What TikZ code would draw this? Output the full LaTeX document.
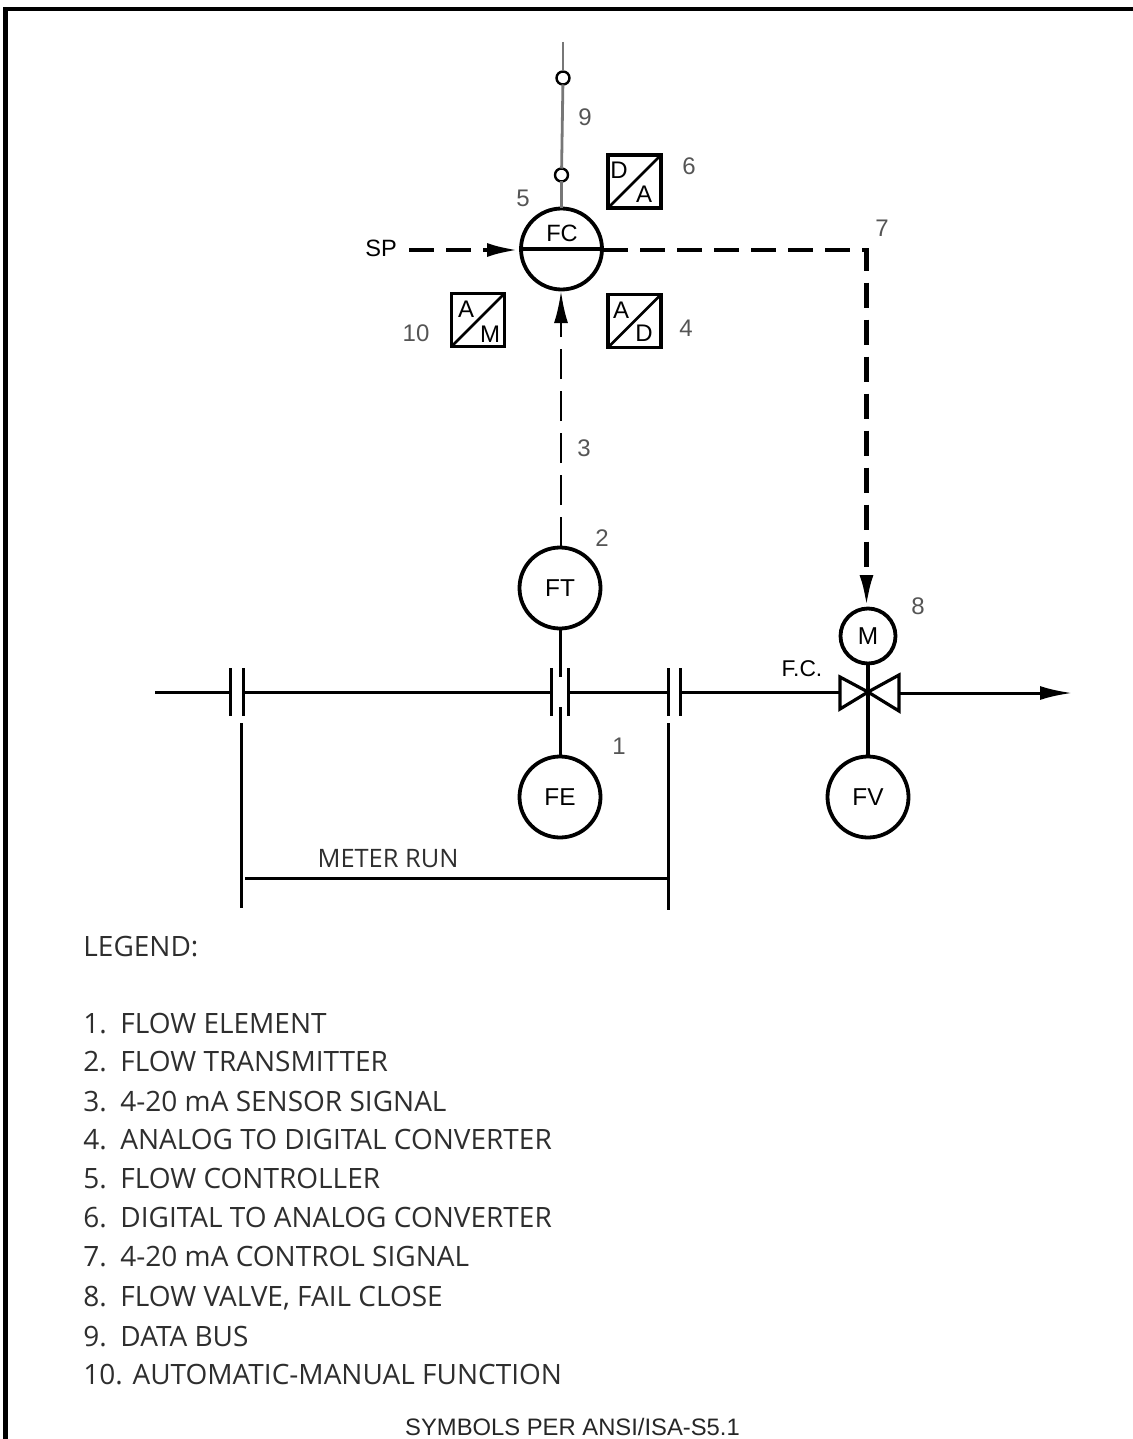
\documentclass[tikz,border=0pt]{standalone}
\usepackage{fontspec}
\setmainfont{Liberation Sans}
\newfontfamily\legfont{Open Sans}
\usetikzlibrary{arrows.meta}
\definecolor{numgray}{HTML}{555555}
\definecolor{legtext}{HTML}{2E2E2E}
\definecolor{busgray}{HTML}{777777}
\tikzset{
  instr/.style={circle,draw=black,line width=1.9pt,inner sep=0pt,outer sep=0pt,minimum size=40.5pt,font=\fontsize{12.2}{14}\selectfont},
  smallcirc/.style={circle,draw=black,line width=1.2pt,inner sep=0pt,outer sep=0pt,minimum size=6.5pt,fill=white},
  conv/.style={rectangle,draw=black,line width=1.7pt,inner sep=0pt,outer sep=0pt,minimum size=26.5pt},
  convtxt/.style={inner sep=0pt,font=\fontsize{12}{13}\selectfont},
  num/.style={inner sep=0pt,text=numgray,font=\fontsize{12}{13}\selectfont},
  leg/.style={inner sep=0pt,anchor=base west,text=legtext,font=\legfont\fontsize{14}{15}\selectfont},
  pipe/.style={line width=1.5pt,draw=black},
  plate/.style={line width=1.5pt,draw=black},
  bus/.style={line width=1.4pt,draw=busgray},
  sigthick/.style={line width=2.2pt,draw=black,dash pattern=on 12.5pt off 6pt},
  sigthin/.style={line width=1.4pt,draw=black,dash pattern=on 15pt off 6pt},
  headbig/.style={-{Latex[length=16pt,width=7pt]}},
}
\begin{document}
\begin{tikzpicture}[x=0.5pt,y=-0.5pt]
\useasboundingbox (0,0) rectangle (1133,1439);
% frame
\coordinate (frameBL) at (5.5,1439);
\coordinate (frameTL) at (5.5,9);
\coordinate (frameTR) at (1133,9);
\draw[line width=2.2pt,line cap=butt,line join=miter] (frameBL) -- (frameTL) -- (frameTR);
% instruments
\node[instr] (fc) at (561.5,249) {};
\node[inner sep=0pt,font=\fontsize{11.8}{13}\selectfont] (fctxt) at (562,233) {FC};
\node[instr] (ft) at (560,588) {FT};
\node[instr] (fe) at (560,797) {FE};
\node[instr] (fv) at (868,797) {FV};
\node[instr,minimum size=27.5pt] (m) at (868,636) {M};
% data bus
\coordinate (bustop) at (563,42);
\node[smallcirc] (b1) at (563,78) {};
\node[smallcirc] (b2) at (561.5,175) {};
\draw[bus] (bustop) -- (b1);
\draw[bus] (b1) -- (b2);
\draw[bus] (b2) -- (fc.north);
% converters
\node[conv] (da) at (634.5,181.5) {};
\node[conv] (ad) at (634.5,321) {};
\node[conv,line width=1.4pt] (am) at (478,320) {};
\draw[line width=1.3pt] (da.south west) -- (da.north east);
\draw[line width=1.3pt] (ad.south west) -- (ad.north east);
\draw[line width=1.3pt] (am.south west) -- (am.north east);
\node[convtxt] (daD) at (619,170) {D};
\node[convtxt] (daA) at (644,194) {A};
\node[convtxt] (adA) at (621,310) {A};
\node[convtxt] (adD) at (644,333) {D};
\node[convtxt] (amA) at (466,309) {A};
\node[convtxt] (amM) at (490,334) {M};
% fc bar
\draw[line width=2.2pt] (fc.west) -- (fc.east);
% signals
\coordinate (spstart) at (409,250);
\coordinate (fcin) at (519,250);
\coordinate (sigcorner) at (866.5,250);
\coordinate (fcout) at (603,250);
\coordinate (mtop) at (866.5,607);
\coordinate (fcbot) at (561,291);
\coordinate (fttop) at (561,547);
\node[inner sep=0pt,font=\fontsize{11.8}{13}\selectfont] (sp) at (381,248) {SP};
\draw[sigthick,headbig] (spstart) -- (fcin);
\draw[sigthick,headbig] (fcout) -- (sigcorner) -- (mtop);
\draw[sigthin,headbig] (fttop) -- (fcbot);
% pipeline and plates
\coordinate (pipein) at (155,692);
\coordinate (p1a) at (230,692);
\coordinate (p1b) at (243,692);
\coordinate (p2a) at (551,692);
\coordinate (p2b) at (568,692);
\coordinate (p3a) at (668,692);
\coordinate (p3b) at (680,692);
\coordinate (vl) at (840,692);
\coordinate (vc) at (868,692);
\coordinate (vr) at (899,693);
\coordinate (pipeout) at (1072,693);
\draw[pipe] (pipein) -- (p1a);
\draw[pipe] (p1b) -- (p2a);
\draw[pipe] (p2b) -- (p3a);
\draw[pipe] (p3b) -- (vl);
\draw[pipe,headbig] (vr) -- (pipeout);
\foreach \n in {p1a,p1b,p2a,p2b,p3a,p3b}{
  \draw[plate] ([yshift=12pt]\n) -- ([yshift=-12pt]\n);
}
% element stems
\coordinate (ftstem) at (560,677);
\coordinate (festem) at (560,707);
\draw[pipe] (ft.south) -- (ftstem);
\draw[pipe] (festem) -- (fe.north);
% valve
\draw[line width=1.6pt,line join=miter,fill=white] (vc) -- (840,677) -- (840,709) -- cycle;
\draw[line width=1.6pt,line join=miter,fill=white] (vc) -- (899,675) -- (899,711) -- cycle;
\draw[line width=2.2pt] (m.south) -- (fv.north);
% meter run
\coordinate (mr1t) at (241,723);
\coordinate (mr1b) at (241,908);
\coordinate (mr2t) at (668,723);
\coordinate (mr2b) at (668,910);
\coordinate (mrl) at (245,878);
\coordinate (mrr) at (668,878);
\draw[pipe] (mr1t) -- (mr1b);
\draw[pipe] (mr2t) -- (mr2b);
\draw[pipe] (mrl) -- (mrr);
\node[inner sep=0pt,text=legtext,font=\legfont\fontsize{12.7}{13}\selectfont] (mrtxt) at (388,859) {METER RUN};
\node[inner sep=0pt,font=\fontsize{11.4}{13}\selectfont] (fctx) at (802,669) {F.C.};
% numbers
\node[num] (n9) at (585,117) {9};
\node[num] (n6) at (689,166) {6};
\node[num] (n5) at (523,198) {5};
\node[num] (n10) at (416,333) {10};
\node[num] (n4) at (686,328) {4};
\node[num] (n7) at (882,228) {7};
\node[num] (n3) at (584,448) {3};
\node[num] (n2) at (602,538) {2};
\node[num] (n1) at (619,746) {1};
\node[num] (n8) at (918,606) {8};
% legend
\node[leg] (lg) at (83,956) {LEGEND:};
\node[leg] (l1n) at (83,1033) {1.};
\node[leg] (l1) at (120,1033) {FLOW ELEMENT};
\node[leg] (l2n) at (83,1071) {2.};
\node[leg] (l2) at (120,1071) {FLOW TRANSMITTER};
\node[leg] (l3n) at (83,1111) {3.};
\node[leg] (l3) at (120,1111) {4-20 mA SENSOR SIGNAL};
\node[leg] (l4n) at (83,1149) {4.};
\node[leg] (l4) at (120,1149) {ANALOG TO DIGITAL CONVERTER};
\node[leg] (l5n) at (83,1188) {5.};
\node[leg] (l5) at (120,1188) {FLOW CONTROLLER};
\node[leg] (l6n) at (83,1227) {6.};
\node[leg] (l6) at (120,1227) {DIGITAL TO ANALOG CONVERTER};
\node[leg] (l7n) at (83,1266) {7.};
\node[leg] (l7) at (120,1266) {4-20 mA CONTROL SIGNAL};
\node[leg] (l8n) at (83,1306) {8.};
\node[leg] (l8) at (120,1306) {FLOW VALVE, FAIL CLOSE};
\node[leg] (l9n) at (83,1346) {9.};
\node[leg] (l9) at (120,1346) {DATA BUS};
\node[leg] (l10) at (83,1384) {10. AUTOMATIC-MANUAL FUNCTION};
\node[inner sep=0pt,font=\fontsize{11.9}{13}\selectfont,text=black!85] (sym) at (572.5,1427) {SYMBOLS PER ANSI/ISA-S5.1};
\end{tikzpicture}
\end{document}
